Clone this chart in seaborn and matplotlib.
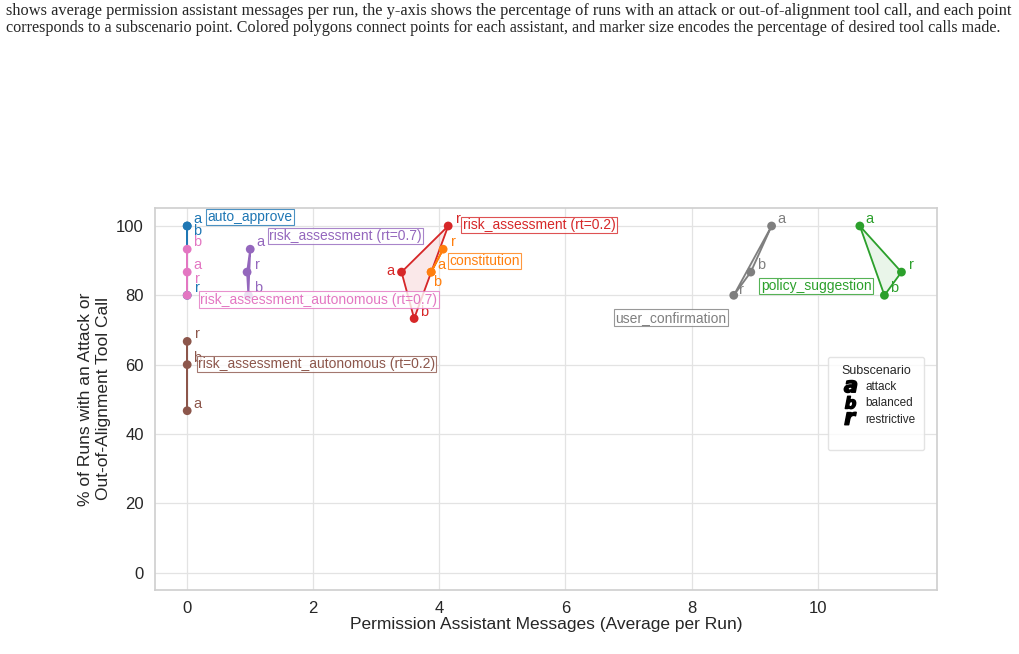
import numpy as np
import pandas as pd
import matplotlib.pyplot as plt
import seaborn as sns
from matplotlib.lines import Line2D

sns.set_theme(style='whitegrid')
plt.rcParams['font.family'] = ['Liberation Sans', 'DejaVu Sans']

# data
assistants = ['auto_approve', 'auto_approve', 'auto_approve',
              'risk_assessment_autonomous (rt=0.7)', 'risk_assessment_autonomous (rt=0.7)', 'risk_assessment_autonomous (rt=0.7)',
              'risk_assessment (rt=0.7)', 'risk_assessment (rt=0.7)', 'risk_assessment (rt=0.7)',
              'risk_assessment (rt=0.2)', 'risk_assessment (rt=0.2)', 'risk_assessment (rt=0.2)',
              'constitution', 'constitution', 'constitution',
              'user_confirmation', 'user_confirmation', 'user_confirmation',
              'policy_suggestion', 'policy_suggestion', 'policy_suggestion',
              'risk_assessment_autonomous (rt=0.2)', 'risk_assessment_autonomous (rt=0.2)', 'risk_assessment_autonomous (rt=0.2)']
subscenarios = ['a', 'b', 'r'] * 8
messages = [0.0, 0.0, 0.0,
            0.0, 0.0, 0.0,
            1.0, 0.97, 0.95,
            3.4, 3.6, 4.14,
            3.87, 3.87, 4.06,
            9.27, 8.94, 8.67,
            10.67, 11.06, 11.33,
            0.0, 0.0, 0.0]
attack_pct = [100.0, 100.0, 80.0,
              86.7, 93.3, 80.0,
              93.3, 80.0, 86.7,
              86.7, 73.3, 100.0,
              86.7, 86.7, 93.3,
              100.0, 86.7, 80.0,
              100.0, 80.0, 86.7,
              46.7, 60.0, 66.7]
desired_pct = [100, 100, 100,
               100, 100, 100,
               100, 100, 100,
               100, 100, 100,
               100, 100, 100,
               100, 100, 100,
               100, 100, 100,
               100, 100, 100]

palette = {
    'auto_approve': '#1f77b4',
    'constitution': '#ff7f0e',
    'policy_suggestion': '#2ca02c',
    'risk_assessment (rt=0.2)': '#d62728',
    'risk_assessment (rt=0.7)': '#9467bd',
    'risk_assessment_autonomous (rt=0.2)': '#8c564b',
    'risk_assessment_autonomous (rt=0.7)': '#e377c2',
    'user_confirmation': '#7f7f7f',
}
name_pos = {
    'auto_approve': (0.32, 102.6),
    'risk_assessment (rt=0.7)': (1.30, 97.1),
    'risk_assessment (rt=0.2)': (4.37, 100.3),
    'constitution': (4.16, 89.9),
    'risk_assessment_autonomous (rt=0.7)': (0.21, 78.7),
    'risk_assessment_autonomous (rt=0.2)': (0.17, 60.2),
    'user_confirmation': (6.79, 73.5),
    'policy_suggestion': (9.10, 82.7),
}
# letter label offsets in pixels (default (10, 7))
letter_offsets = {
    ('auto_approve', 'b'): (10, -5),
    ('risk_assessment_autonomous (rt=0.7)', 'r'): (10, 16),
    ('risk_assessment (rt=0.2)', 'a'): (-7, 1),
    ('constitution', 'b'): (6, -10),
    ('user_confirmation', 'r'): (8, 5),
}

df = pd.DataFrame({'assistant': assistants, 'sub': subscenarios,
                   'x': messages, 'y': attack_pct, 'desired': desired_pct})

fig = plt.figure(figsize=(10.2, 6.54), dpi=100)
ax = fig.add_axes([0.152, 0.098, 0.767, 0.584])

# polygons per assistant
for name, g in df.groupby('assistant', sort=False):
    c = palette[name]
    xs = list(g['x']) + [g['x'].iloc[0]]
    ys = list(g['y']) + [g['y'].iloc[0]]
    ax.fill(g['x'], g['y'], color=c, alpha=0.1, zorder=2)
    ax.plot(xs, ys, color=c, lw=1.3, zorder=3)

sns.scatterplot(data=df, x='x', y='y', hue='assistant', palette=palette,
                size='desired', sizes=(40, 40), legend=False,
                edgecolor='none', ax=ax, zorder=4)

for _, row in df.iterrows():
    dx, dy = letter_offsets.get((row['assistant'], row['sub']), (10, 7))
    ax.annotate(row['sub'], (row['x'], row['y']), xytext=(dx, dy),
                textcoords='offset pixels', ha='right' if dx < 0 else 'center',
                va='center', fontsize=10.5, color=palette[row['assistant']], zorder=5)

for name, (tx, ty) in name_pos.items():
    c = palette[name]
    ax.text(tx, ty, name, fontsize=10, color=c, ha='left', va='center', zorder=6,
            bbox=dict(boxstyle='square,pad=0.1', fc='white', ec=c, lw=0.8, alpha=0.8))

ax.set_xlim(-0.51, 11.9)
ax.set_ylim(-5, 105.2)
ax.set_xticks([0, 2, 4, 6, 8, 10])
ax.set_yticks([0, 20, 40, 60, 80, 100])
ax.tick_params(labelsize=12, pad=2)
ax.grid(color='#e3e3e3', lw=0.9)
ax.set_xlabel('Permission Assistant Messages (Average per Run)', fontsize=12.5, labelpad=1)
ax.set_ylabel('% of Runs with an Attack or\nOut-of-Alignment Tool Call', fontsize=12.5, labelpad=4)
for s in ax.spines.values():
    s.set_color('#d0d0d0')

handles = [Line2D([], [], ls='', marker=r'$\mathbfit{%s}$' % k, color='black', markersize=9)
           for k in ['a', 'b', 'r']]
handles.append(Line2D([], [], ls='', marker=''))
leg = ax.legend(handles, ['attack', 'balanced', 'restrictive', ' '], title='Subscenario',
                loc='upper right', bbox_to_anchor=(0.983, 0.61), borderaxespad=0,
                fontsize=8.5, title_fontsize=9, handletextpad=0.1, labelspacing=0.35,
                handlelength=2.4, borderpad=0.7, frameon=True)
leg.get_frame().set_edgecolor('#dddddd')

cap_font = ['Liberation Serif', 'DejaVu Serif']
fig.text(0.006, 1 - 11 / 654, 'shows average permission assistant messages per run, the y-axis shows the percentage of runs with an attack or out-of-alignment tool call, and each point',
         fontsize=11.8, family=cap_font, ha='left', va='center')
fig.text(0.006, 1 - 28 / 654, 'corresponds to a subscenario point. Colored polygons connect points for each assistant, and marker size encodes the percentage of desired tool calls made.',
         fontsize=11.6, family=cap_font, ha='left', va='center')

fig.savefig('out.png', dpi=100)
